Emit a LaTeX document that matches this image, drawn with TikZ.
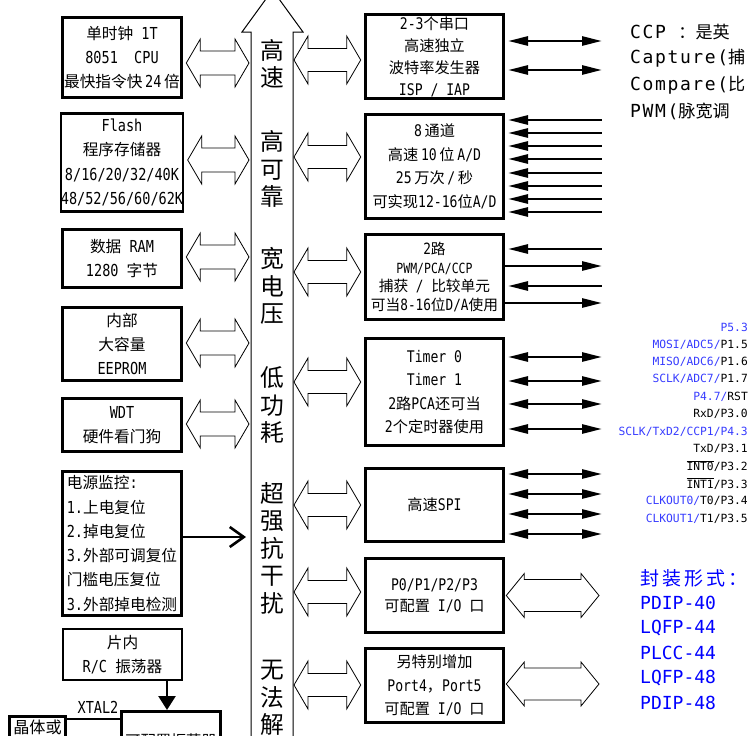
\documentclass[tikz,border=0pt]{standalone}
\usepackage{fontspec}
\usetikzlibrary{calc,arrows.meta}
\setmainfont{DejaVu Sans Mono}[FakeStretch=0.82]
\newfontfamily\cjkfont{Noto Sans CJK SC}[Scale=0.95]
\newfontfamily\pkgfont{DejaVu Sans Mono}
\newfontfamily\ccpfont{DejaVu Sans Mono}[LetterSpace=9]
\XeTeXinterchartokenstate=1
\newXeTeXintercharclass\CJKclass
\newcount\cjkcnt
\cjkcnt="20
\loop
 \XeTeXcharclass\cjkcnt=0
 \ifnum\cjkcnt<"FF \advance\cjkcnt by 1
\repeat
\cjkcnt="3000
\loop
 \XeTeXcharclass\cjkcnt=\CJKclass
 \ifnum\cjkcnt<"9FFF \advance\cjkcnt by 1
\repeat
\cjkcnt="FF00
\loop
 \XeTeXcharclass\cjkcnt=\CJKclass
 \ifnum\cjkcnt<"FFEF \advance\cjkcnt by 1
\repeat
\XeTeXinterchartoks 0 \CJKclass = {\begingroup\cjkfont}
\XeTeXinterchartoks 4095 \CJKclass = {\begingroup\cjkfont}
\XeTeXinterchartoks \CJKclass 0 = {\endgroup}
\XeTeXinterchartoks \CJKclass 4095 = {\endgroup}
\definecolor{pinblue}{RGB}{55,60,255}
\definecolor{pkgblue}{RGB}{0,0,255}
\newcommand\hollow[5]{%
 \draw[hol] let \p1=(#1), \p2=(#2) in
 (\x1,\y1) -- (\x1+#3,\y1+#4) -- (\x1+#3,\y1+#5) -- (\x2-#3,\y1+#5) -- (\x2-#3,\y1+#4) -- (\x2,\y1)
 -- (\x2-#3,\y1-#4) -- (\x2-#3,\y1-#5) -- (\x1+#3,\y1-#5) -- (\x1+#3,\y1-#4) -- cycle;}
\tikzset{
 lbox/.style={draw, line width=2.6pt, inner sep=0pt, minimum width=119.4pt, align=center, font=\fontsize{16.5}{24.3}\selectfont},
 rbox/.style={draw, line width=2.6pt, inner sep=0pt, minimum width=138.4pt, align=center, font=\fontsize{16}{23.5}\selectfont},
 bustxt/.style={align=center, inner sep=0pt, font=\fontsize{25}{27.5}\selectfont},
 hol/.style={draw, line width=0.8pt},
 sigin/.style={line width=2.6pt, shorten <=3pt, {Triangle[length=20pt,width=9pt]}-},
 sigout/.style={line width=2.6pt, -{Triangle[length=20pt,width=9pt]}},
 sigboth/.style={line width=2.6pt, shorten <=3pt, {Triangle[length=20pt,width=9pt]}-{Triangle[length=20pt,width=9pt]}},
 pwrarrow/.style={line width=2.6pt, -{Straight Barb[length=14pt,width=20pt]}},
 oscarrow/.style={line width=2.6pt, -{Triangle[length=14pt,width=17pt]}},
 pin/.style={anchor=east, inner sep=0pt, font=\pkgfont\fontsize{11.3}{13}\selectfont},
 ccp/.style={anchor=west, inner sep=0pt, font=\ccpfont\fontsize{18}{20}\selectfont},
 pkg/.style={anchor=west, inner sep=0pt, text=pkgblue, font=\pkgfont\fontsize{18}{20}\selectfont},
}
\begin{document}
\begin{tikzpicture}[x=1pt,y=-1pt]
\useasboundingbox[fill=white] (0,0) rectangle (753,736);
% bus
\coordinate (busL) at (251,0);
\coordinate (busR) at (293,0);
\coordinate (pe) at (602,0);
\coordinate (ioR) at (599,0);
\draw[line width=1pt] (251,760) -- (251,32) -- (242,32) -- (272.5,-10) -- (303,32) -- (293,32) -- (293,760);
\node[bustxt] (B1) at (272,64) {高\\速};
\node[bustxt] (B2) at (272,169) {高\\可\\靠};
\node[bustxt] (B3) at (272,286) {宽\\电\\压};
\node[bustxt] (B4) at (272,405) {低\\功\\耗};
\node[bustxt] (B5) at (272,548) {超\\强\\抗\\干\\扰};
\node[bustxt] (B6) at (272,698) {无\\法\\解};
% left boxes
\node[lbox, minimum height=80.4pt] (L1) at (122,57.5) {单时钟 1T\\8051\ \ CPU\\最快指令快\,24\,倍};
\node[lbox, minimum height=98.4pt] (L2) at (122,162.5) {Flash\\程序存储器\\8/16/20/32/40K\\48/52/56/60/62K};
\node[lbox, minimum height=58.4pt] (L3) at (122,258.5) {数据 RAM\\1280 字节};
\node[lbox, minimum height=73.4pt] (L4) at (122,344) {内部\\大容量\\EEPROM};
\node[lbox, minimum height=53.4pt] (L5) at (122,425) {WDT\\硬件看门狗};
\node[lbox, minimum height=144.4pt, align=left] (L6) at (122,543.5) {电源监控:\\1.上电复位\\2.掉电复位\\3.外部可调复位\\门槛电压复位\\3.外部掉电检测};
\node[lbox, line width=2pt, minimum width=119pt, minimum height=51pt] (L7) at (122.5,654.5) {片内\\R/C 振荡器};
\node[draw, line width=2.6pt, minimum width=56.4pt, minimum height=47.4pt, inner sep=0pt] (X1) at (37.5,740) {};
\node[inner sep=0pt, font=\fontsize{17}{20}\selectfont] (X1t) at (37.5,727) {晶体或};
\node[draw, line width=2.6pt, minimum width=99.4pt, minimum height=52.4pt, inner sep=0pt] (X2) at (171,737.5) {};
\node[inner sep=0pt, font=\fontsize{16}{20}\selectfont] (X2t) at (171,741) {可配置振荡器};
\node[inner sep=0pt, font=\fontsize{16.5}{20}\selectfont] (XT) at (98,707) {XTAL2};
\draw[line width=2.6pt] (X1.east |- 0,719) -- (X2.west |- 0,719);
\coordinate (osc) at ($(L7.south)+(44.5,0)$);
\draw[oscarrow] (osc) -- (osc |- X2.north);
\draw[pwrarrow] ($(L6.east)+(0,-6.5)$) -- ($(L6.east -| busL)+(-5,-6.5)$);
% left hollow arrows
\hollow{$(L1.east)+(3.3,5.5)$}{$(L1.east -| busL)+(-2,5.5)$}{14}{24}{12}
\hollow{$(L2.east)+(3.3,-2.5)$}{$(L2.east -| busL)+(-2,-2.5)$}{14}{24}{12}
\hollow{$(L3.east)+(3.3,-1.5)$}{$(L3.east -| busL)+(-2,-1.5)$}{14}{24}{12}
\hollow{$(L4.east)+(3.3,-1)$}{$(L4.east -| busL)+(-2,-1)$}{14}{24}{12}
\hollow{$(L5.east)+(3.3,-1)$}{$(L5.east -| busL)+(-2,-1)$}{14}{24}{12}
% right boxes
\node[rbox, minimum height=84.4pt, font=\fontsize{16}{22}\selectfont] (R1) at (434.5,56.5) {2-3个串口\\高速独立\\波特率发生器\\ISP / IAP};
\node[rbox, minimum height=104.4pt] (R2) at (434.5,166.5) {8\,通道\\高速\,10\,位\,A/D\\25\,万次\,/\,秒\\可实现12-16位A/D};
\node[rbox, minimum height=85.4pt, font=\fontsize{15.5}{18.7}\selectfont] (R3) at (434.5,277) {2路\\{\fontsize{14}{18.7}\selectfont PWM/PCA/CCP}\\捕获 / 比较单元\\可当8-16位D/A使用};
\node[rbox, minimum height=107.4pt] (R4) at (434.5,392) {Timer 0\\Timer 1\\2路PCA还可当\\2个定时器使用};
\node[rbox, minimum height=73.4pt] (R5) at (434.5,505) {高速SPI};
\node[rbox, minimum height=74.4pt, font=\fontsize{16}{21}\selectfont] (R6) at (434.5,595.5) {P0/P1/P2/P3\\可配置 I/O 口};
\node[rbox, minimum height=74.4pt] (R7) at (434.5,685.5) {另特别增加\\Port4，Port5\\可配置 I/O 口};
% middle hollow arrows
\hollow{$(R1.west -| busR)+(1,3.5)$}{$(R1.west)+(-3.3,3.5)$}{14}{24}{11.5}
\hollow{$(R2.west -| busR)+(1,-9.5)$}{$(R2.west)+(-3.3,-9.5)$}{14}{24}{11.5}
\hollow{$(R3.west -| busR)+(1,-5)$}{$(R3.west)+(-3.3,-5)$}{14}{24}{11.5}
\hollow{$(R4.west -| busR)+(1,-10)$}{$(R4.west)+(-3.3,-10)$}{14}{24}{11.5}
\hollow{$(R5.west -| busR)+(1,0)$}{$(R5.west)+(-3.3,0)$}{14}{24}{11.5}
\hollow{$(R6.west -| busR)+(1,-3.5)$}{$(R6.west)+(-3.3,-3.5)$}{14}{24}{11.5}
\hollow{$(R7.west -| busR)+(1,-0.5)$}{$(R7.west)+(-3.3,-0.5)$}{14}{24}{11.5}
% right hollow arrows
\hollow{$(R6.east)+(1.3,0)$}{$(R6.east -| ioR)+(0,0)$}{18}{22}{16}
\hollow{$(R7.east)+(1.3,-1.5)$}{$(R7.east -| ioR)+(0,-1.5)$}{18}{22}{16}
% signal lines
\foreach \y in {41,70} \draw[sigboth] (R1.east |- 0,\y) -- (pe |- 0,\y);
\foreach \y in {120,133,146,159,173,186,199,212} \draw[sigin] (R2.east |- 0,\y) -- (pe |- 0,\y);
\foreach \y in {249,286} \draw[sigin] (R3.east |- 0,\y) -- (pe |- 0,\y);
\foreach \y in {266,303} \draw[sigout] (R3.east |- 0,\y) -- (pe |- 0,\y);
\foreach \y in {357,381,404,429} \draw[sigboth] (R4.east |- 0,\y) -- (pe |- 0,\y);
\foreach \y in {474,494,514,534} \draw[sigboth] (R5.east |- 0,\y) -- (pe |- 0,\y);
% CCP notes
\node[ccp] (C1) at (630,32) {CCP ：是英};
\node[ccp] (C2) at (630,58.5) {Capture(捕};
\node[ccp] (C3) at (630,85) {Compare(比};
\node[ccp] (C4) at (630,111.5) {PWM(脉宽调};
% pins
\node[pin] (P1) at (748,327) {\textcolor{pinblue}{P5.3}};
\node[pin] (P2) at (748,344.4) {\textcolor{pinblue}{MOSI/ADC5/}P1.5};
\node[pin] (P3) at (748,361.8) {\textcolor{pinblue}{MISO/ADC6/}P1.6};
\node[pin] (P4) at (748,379.2) {\textcolor{pinblue}{SCLK/ADC7/}P1.7};
\node[pin] (P5) at (748,396.6) {\textcolor{pinblue}{P4.7/}RST};
\node[pin] (P6) at (748,414) {RxD/P3.0};
\node[pin] (P7) at (748,431.4) {\textcolor{pinblue}{SCLK/TxD2/CCP1/P4.3}};
\node[pin] (P8) at (748,448.8) {TxD/P3.1};
\node[pin] (P9) at (748,466.2) {$\overline{\hbox{INT0}}$/P3.2};
\node[pin] (P10) at (748,483.6) {$\overline{\hbox{INT1}}$/P3.3};
\node[pin] (P11) at (748,501) {\textcolor{pinblue}{CLKOUT0/}T0/P3.4};
\node[pin] (P12) at (748,518.4) {\textcolor{pinblue}{CLKOUT1/}T1/P3.5};
% package
\node[pkg, font=\pkgfont\fontsize{20}{22}\selectfont] (K0) at (640,578) {封\hspace{3pt}装\hspace{3pt}形\hspace{3pt}式\hspace{3pt}：};
\node[pkg] (K1) at (640,603) {PDIP-40};
\node[pkg] (K2) at (640,628) {LQFP-44};
\node[pkg] (K3) at (640,653) {PLCC-44};
\node[pkg] (K4) at (640,678) {LQFP-48};
\node[pkg] (K5) at (640,703) {PDIP-48};
\end{tikzpicture}
\end{document}
